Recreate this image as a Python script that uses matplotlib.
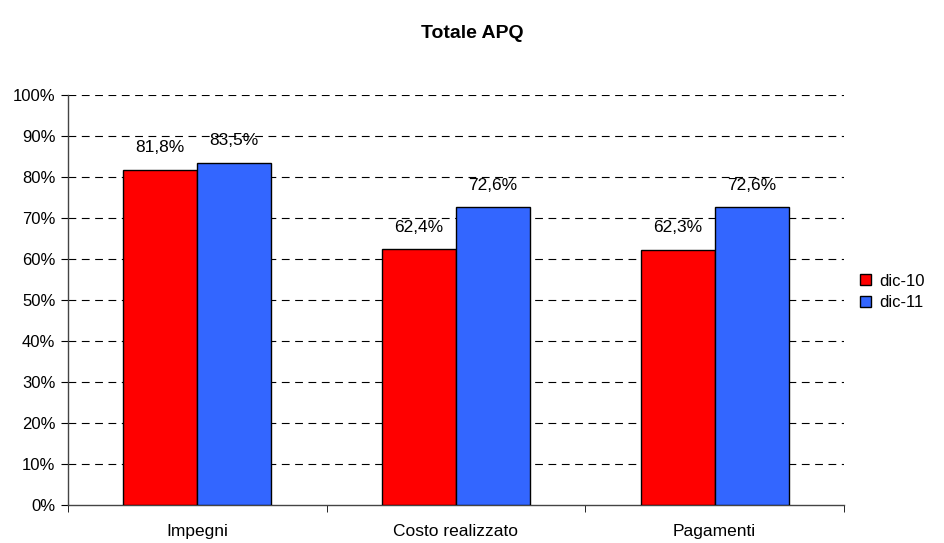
import matplotlib.pyplot as plt
import numpy as np
from matplotlib.ticker import FixedLocator

plt.rcParams["font.family"] = ["Liberation Sans", "DejaVu Sans"]

categories = ["Impegni", "Costo realizzato", "Pagamenti"]
series_names = ["dic-10", "dic-11"]
dic10 = [81.8, 62.4, 62.3]
dic11 = [83.5, 72.6, 72.6]
colors = ["#FF0000", "#3366FF"]

fig = plt.figure(figsize=(9.44, 5.43), dpi=100)
ax = fig.add_axes([0.072, 0.070, 0.822, 0.755])

x = np.arange(len(categories))
width = 0.286
for i, (vals, name) in enumerate(zip([dic10, dic11], series_names)):
    pos = x + (i - 0.5) * width
    ax.bar(pos, vals, width, color=colors[i], edgecolor="black",
           linewidth=1, label=name, zorder=3)
    for p, v in zip(pos, vals):
        ax.text(p, v + 5.4, f"{v:.1f}%".replace(".", ","), ha="center",
                va="center", fontsize=12.5)

ax.set_xlim(-0.5, len(categories) - 0.5)
ax.set_ylim(0, 100)
ax.set_yticks(np.arange(0, 101, 10))
ax.set_yticklabels([f"{t}%" for t in range(0, 101, 10)], fontsize=12)
ax.set_xticks(x)
ax.set_xticklabels(categories, fontsize=12.5)
ax.tick_params(axis="x", length=0, pad=14)
ax.xaxis.set_minor_locator(FixedLocator(np.arange(-0.5, len(categories), 1)))
ax.tick_params(axis="x", which="minor", length=5, direction="out")
ax.tick_params(axis="y", length=5, direction="out", pad=4)

# dashed horizontal gridlines (no line at 0%)
for y in range(10, 101, 10):
    ax.axhline(y, color="black", linestyle=(0, (7, 5)), linewidth=0.8, zorder=1)

for s in ["top", "right"]:
    ax.spines[s].set_visible(False)
for s in ["left", "bottom"]:
    ax.spines[s].set_color("#444444")
    ax.spines[s].set_linewidth(1)

fig.text(0.5, 0.939, "Totale APQ", ha="center", va="center",
         fontsize=14, fontweight="bold")

leg = ax.legend(loc="center left", bbox_to_anchor=(860 / 944, 1 - 292 / 543),
                bbox_transform=fig.transFigure, frameon=False,
                fontsize=12, handlelength=0.65, handleheight=0.65,
                handletextpad=0.5, labelspacing=0.4, borderaxespad=0,
                borderpad=0)

fig.savefig("out.png", dpi=100)
